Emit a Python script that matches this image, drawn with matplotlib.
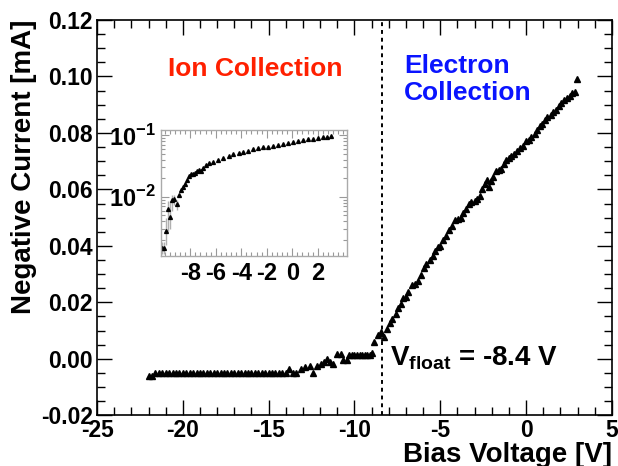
import math

import matplotlib
matplotlib.use("Agg")
import matplotlib.pyplot as plt
from matplotlib.ticker import MultipleLocator, LogLocator, NullFormatter, FixedLocator

plt.rcParams["font.family"] = ["Liberation Sans", "DejaVu Sans"]
plt.rcParams["font.weight"] = "bold"
plt.rcParams["axes.unicode_minus"] = False
plt.rcParams["mathtext.fontset"] = "custom"
plt.rcParams["mathtext.rm"] = "Liberation Sans:bold"
plt.rcParams["mathtext.bf"] = "Liberation Sans:bold"

# main I-V curve: flat ion-saturation part
flat_v = [-22.0, -21.8, -21.6, -21.4, -21.2, -21.0, -20.8, -20.6, -20.4, -20.2,
          -20.0, -19.8, -19.6, -19.4, -19.2, -19.0, -18.8, -18.6, -18.4, -18.2,
          -18.0, -17.8, -17.6, -17.4, -17.2, -17.0, -16.8, -16.6, -16.4, -16.2,
          -16.0, -15.8, -15.6, -15.4, -15.2, -15.0, -14.8, -14.6, -14.4, -14.2,
          -14.0, -13.8, -13.6, -13.4]
flat_i = [-0.006, -0.006] + [-0.005] * 39 + [-0.0035, -0.005, -0.005]

# rising part
rise_v = [-13.1, -12.9, -12.6, -12.4, -12.2, -11.95, -11.8, -11.6, -11.4, -11.25,
          -11.0, -10.8, -10.65, -10.45, -10.3, -10.15, -10.0, -9.85, -9.7, -9.55,
          -9.4, -9.25, -9.1, -8.95, -8.84, -8.65, -8.45, -8.3, -8.1, -7.9,
          -7.8, -7.6, -7.45, -7.3, -7.15, -7.0, -6.85, -6.65, -6.45, -6.3,
          -6.1, -5.95, -5.8, -5.6, -5.45, -5.3, -5.15, -5.0, -4.85, -4.65,
          -4.5, -4.3, -4.15, -3.95, -3.8, -3.65, -3.5, -3.35, -3.2, -3.0,
          -2.85, -2.7, -2.55, -2.4, -2.3, -2.15, -2.05, -1.9, -1.75, -1.6,
          -1.45, -1.3, -1.15, -1.0, -0.85, -0.7, -0.5, -0.35, -0.2, 0.0,
          0.15, 0.3, 0.5, 0.65, 0.8, 0.95, 1.1, 1.25, 1.45, 1.6,
          1.75, 1.9, 2.05, 2.2, 2.4, 2.55, 2.7, 2.85, 2.95]
rise_i = [-0.0035, -0.003, -0.0025, -0.005, -0.0025, -0.002, -0.001, 0.0, -0.001, -0.002,
          0.0018, 0.0018, -0.0006, -0.0006, 0.0015, 0.0015, 0.0015, 0.0015, 0.0015, 0.0015,
          0.0015, 0.0015, 0.0015, 0.002, 0.006, 0.0085, 0.0095, 0.0078, 0.0105, 0.0125,
          0.014, 0.016, 0.018, 0.0195, 0.0215, 0.022, 0.0235, 0.026, 0.0265, 0.0275,
          0.0295, 0.032, 0.0335, 0.035, 0.0365, 0.038, 0.0395, 0.040, 0.042, 0.0435,
          0.0455, 0.047, 0.049, 0.0495, 0.050, 0.0515, 0.053, 0.055, 0.0555, 0.056,
          0.0565, 0.0575, 0.060, 0.062, 0.0635, 0.061, 0.063, 0.0645, 0.0665, 0.067,
          0.0672, 0.069, 0.0705, 0.071, 0.072, 0.0725, 0.0735, 0.0745, 0.0755, 0.077,
          0.0775, 0.0785, 0.0795, 0.081, 0.0825, 0.083, 0.0845, 0.0855, 0.0865, 0.0875,
          0.088, 0.0895, 0.0905, 0.0915, 0.0925, 0.093, 0.094, 0.0945, 0.099]

v_float = -8.4

# inset (log scale, electron current)
ins_v = [-10.21, -10.03, -9.87, -9.74, -9.56, -9.41, -9.25, -9.07, -8.91, -8.75,
         -8.6, -8.44, -8.29, -8.13, -7.95, -7.79, -7.61, -7.45, -7.3, -7.14,
         -6.98, -6.8, -6.5, -6.18, -5.8, -5.4, -5.0, -4.62, -4.2, -3.84,
         -3.45, -3.05, -2.65, -2.27, -1.9, -1.49, -1.1, -0.71, -0.3, 0.07,
         0.45, 0.85, 1.25, 1.63, 2.0, 2.41, 2.75, 3.07]
ins_i = [0.00148, 0.00148, 0.00275, 0.0063, 0.0047, 0.0089, 0.0093, 0.0077, 0.0108, 0.0130,
         0.0147, 0.0160, 0.0188, 0.0218, 0.0233, 0.0235, 0.0241, 0.0265, 0.0272, 0.0265,
         0.0297, 0.0328, 0.0350, 0.0371, 0.0395, 0.0420, 0.0458, 0.0494, 0.0515, 0.0538,
         0.0562, 0.0587, 0.0610, 0.0633, 0.0652, 0.0672, 0.0694, 0.0716, 0.0742, 0.0771,
         0.0800, 0.0831, 0.0850, 0.0872, 0.0893, 0.0916, 0.0945, 0.0975]
ins_err_lo = [0.0003, 0.0003, 0.0011, 0.0035, 0.0017, 0.003, 0.002, 0.0015] + [0.0] * 40
ins_err_hi = [0.0004, 0.0004, 0.0018, 0.0022, 0.0038, 0.002, 0.0015, 0.0012] + [0.0] * 40

fig = plt.figure(figsize=(6.18, 4.66), dpi=100)
ax = fig.add_axes([0.157, 0.109, 0.833, 0.848])

ax.axvline(v_float, color="black", lw=1.4, ls=(0, (2, 2)))
ax.plot(flat_v, flat_i, ls="none", marker="^", ms=4.5, color="black")
ax.plot(rise_v, rise_i, ls="none", marker="^", ms=5, color="black")

ax.set_xlim(-25, 5)
ax.set_ylim(-0.02, 0.12)
ax.xaxis.set_major_locator(MultipleLocator(5))
ax.xaxis.set_minor_locator(MultipleLocator(1))
ax.yaxis.set_major_locator(MultipleLocator(0.02))
ax.yaxis.set_minor_locator(MultipleLocator(0.005))
ax.yaxis.set_major_formatter(plt.FuncFormatter(lambda v, p: f"{v:.2f}"))
ax.xaxis.set_major_formatter(plt.FuncFormatter(lambda v, p: f"{v:.0f}"))
ax.tick_params(which="both", direction="in", top=True, right=True, width=1.0)
ax.tick_params(which="major", length=11, labelsize=16.5, pad=3)
ax.tick_params(which="minor", length=6)
for lab in ax.get_xticklabels() + ax.get_yticklabels():
    lab.set_fontweight("bold")
for s in ax.spines.values():
    s.set_linewidth(1.2)

ax.set_xlabel("Bias Voltage [V]", fontsize=20, fontweight="bold", loc="right", labelpad=0)
ax.set_ylabel("Negative Current [mA]", fontsize=20, fontweight="bold", loc="top", labelpad=3)

ax.text(-15.8, 0.1025, "Ion Collection", color="#ff2000", fontsize=19,
        fontweight="bold", ha="center", va="center")
ax.text(-7.12, 0.0989, "Electron\nCollection", color="#0a14ff", fontsize=19,
        fontweight="bold", ha="left", va="center", linespacing=1.15)
ax.text(-7.9, 0.0002, r"V$_{\mathbf{float}}$ = -8.4 V", color="black", fontsize=20,
        fontweight="bold", ha="left", va="center")

# inset
ins = fig.add_axes([0.2605, 0.4506, 0.301, 0.270])
ins.errorbar(ins_v, ins_i, yerr=[ins_err_lo, ins_err_hi], fmt="none",
             ecolor="#b0b0b0", elinewidth=1.0)
ins.plot(ins_v, ins_i, ls="none", marker="^", ms=2.8, color="black")
ins.set_yscale("log")
ins.set_xlim(-10.3, 4.3)
ins.set_ylim(0.0011, 0.12)
ins.xaxis.set_major_locator(FixedLocator([-8, -6, -4, -2, 0, 2]))
ins.xaxis.set_minor_locator(MultipleLocator(0.4))
ins.yaxis.set_major_locator(LogLocator(base=10, numticks=5))
ins.yaxis.set_minor_locator(LogLocator(base=10, subs=range(2, 10), numticks=20))
ins.yaxis.set_minor_formatter(NullFormatter())
ins.yaxis.set_major_formatter(plt.FuncFormatter(
    lambda v, p: r"10$^{\mathbf{%d}}$" % round(math.log10(v))))
ins.tick_params(which="both", direction="in", top=True, right=True,
                color="#999999", width=0.8)
ins.tick_params(which="major", length=6, labelsize=17, pad=4)
ins.tick_params(which="minor", length=3)
for lab in ins.get_xticklabels() + ins.get_yticklabels():
    lab.set_fontweight("bold")
for s in ins.spines.values():
    s.set_color("#aaaaaa")
    s.set_linewidth(1.0)

fig.savefig("out.png", dpi=100)
